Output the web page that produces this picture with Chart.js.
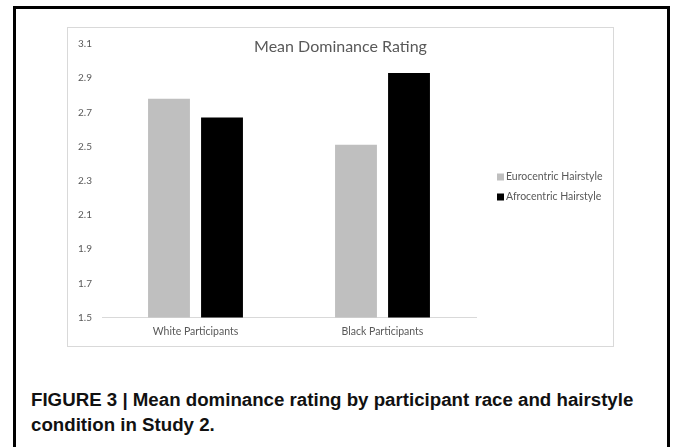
<!DOCTYPE html>
<html>
<head>
<meta charset="utf-8">
<script src="https://cdn.jsdelivr.net/npm/chart.js@4/dist/chart.umd.min.js"></script>
<style>
  html, body { margin: 0; padding: 0; background: #fff; }
  body { width: 673px; height: 447px; position: relative; overflow: hidden; }
  #frame {
    position: absolute; left: 13px; top: 6px; width: 651px; height: 470px;
    border: 3px solid #000;
  }
  #panel {
    position: absolute; left: 67px; top: 27px; width: 545px; height: 318px;
    border: 1px solid #d9d9d9;
  }
  #panel canvas { display: block; }
  #caption {
    position: absolute; left: 31px; top: 387px; width: 630px; white-space: nowrap;
    font-family: "Liberation Sans", Arial, sans-serif; font-weight: bold;
    font-size: 18.7px; line-height: 25px; color: #111;
  }
</style>
</head>
<body>
<div id="frame"></div>
<div id="panel"><canvas id="c" width="545" height="318"></canvas></div>
<div id="caption">FIGURE 3 | Mean dominance rating by participant race and hairstyle<br>condition in Study 2.</div>
<script>
// Mean dominance rating by participant race and hairstyle condition
const categories = ["White Participants", "Black Participants"];
const seriesNames = ["Eurocentric Hairstyle", "Afrocentric Hairstyle"];
const eurocentric = [2.78, 2.51];
const afrocentric = [2.67, 2.93];
const yTicks = [1.5, 1.7, 1.9, 2.1, 2.3, 2.5, 2.7, 2.9, 3.1];
const chartTitle = "Mean Dominance Rating";

const textGray = "#595959";
const fontFamily = "Lato, 'Open Sans', sans-serif";

// Title and legend are placed by hand inside the plot panel
const overlay = {
  id: "overlay",
  afterDraw(chart) {
    const ctx = chart.ctx;
    ctx.save();
    ctx.fillStyle = textGray;
    ctx.font = "16px " + fontFamily;
    ctx.textAlign = "center";
    ctx.textBaseline = "middle";
    ctx.fillText(chartTitle, chart.width / 2, 19);

    ctx.font = "10.5px " + fontFamily;
    ctx.textAlign = "left";
    chart.data.datasets.forEach((ds, i) => {
      const y = 149 + i * 20;
      ctx.fillStyle = ds.backgroundColor;
      ctx.fillRect(429, y - 3.5, 7, 7);
      ctx.fillStyle = textGray;
      ctx.fillText(ds.label, 438, y);
    });
    ctx.restore();
  }
};

new Chart(document.getElementById("c"), {
  type: "bar",
  data: {
    labels: categories,
    datasets: [
      { label: seriesNames[0], data: eurocentric, backgroundColor: "#bfbfbf" },
      { label: seriesNames[1], data: afrocentric, backgroundColor: "#000000" }
    ]
  },
  options: {
    responsive: false,
    animation: false,
    devicePixelRatio: 1,
    layout: { padding: { top: 15, right: 137, left: 0, bottom: 0 } },
    datasets: { bar: { categoryPercentage: 0.567, barPercentage: 0.79 } },
    plugins: { legend: { display: false }, title: { display: false }, tooltip: { enabled: false } },
    scales: {
      x: {
        grid: { display: false, drawTicks: false },
        border: { display: true, color: "#d9d9d9", width: 1 },
        ticks: { color: textGray, font: { family: fontFamily, size: 10.5 }, padding: 8 },
        afterFit(s) { s.height = 28.5; }
      },
      y: {
        min: 1.5, max: 3.1,
        grid: { display: false, drawTicks: false },
        border: { display: false },
        ticks: { color: textGray, font: { family: fontFamily, size: 10 }, padding: 10,
                 callback: v => Number(v).toFixed(1) },
        afterBuildTicks(s) { s.ticks = yTicks.map(v => ({ value: v })); },
        afterFit(s) { s.width = 34; }
      }
    }
  },
  plugins: [overlay]
});
</script>
</body>
</html>
